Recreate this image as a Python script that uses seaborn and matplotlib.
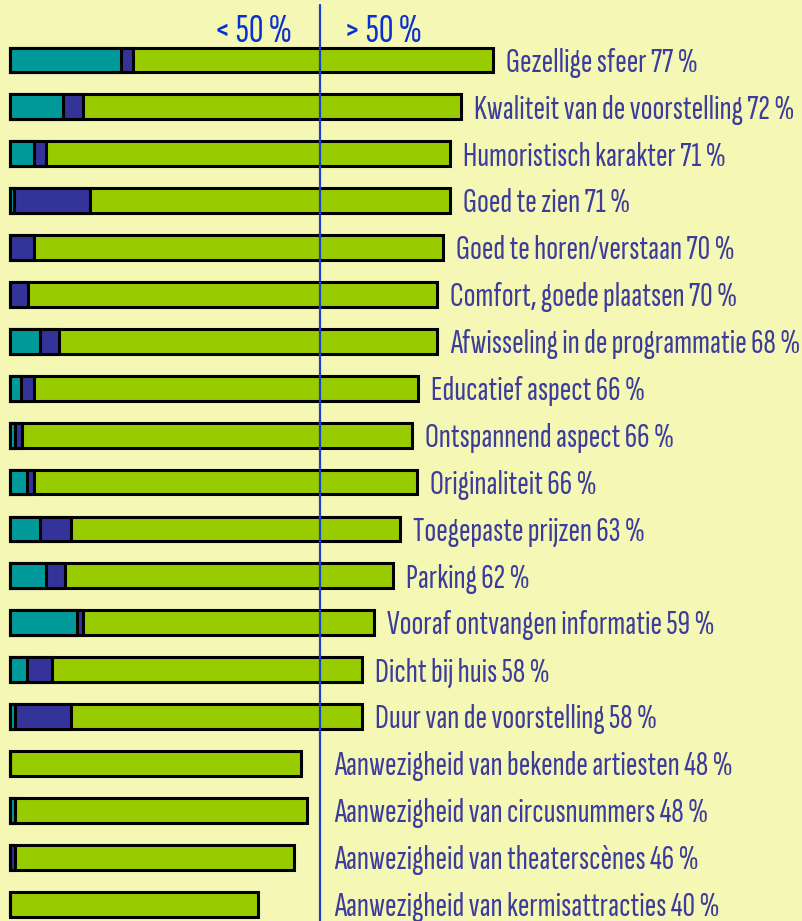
import numpy as np
import pandas as pd
import seaborn as sns
import matplotlib.pyplot as plt

# Data (segment widths in %)
labels = [
    'Gezellige sfeer', 'Kwaliteit van de voorstelling', 'Humoristisch karakter',
    'Goed te zien', 'Goed te horen/verstaan', 'Comfort, goede plaatsen',
    'Afwisseling in de programmatie', 'Educatief aspect', 'Ontspannend aspect',
    'Originaliteit', 'Toegepaste prijzen', 'Parking', 'Vooraf ontvangen informatie',
    'Dicht bij huis', 'Duur van de voorstelling',
    'Aanwezigheid van bekende artiesten', 'Aanwezigheid van circusnummers',
    'Aanwezigheid van theaterscènes', 'Aanwezigheid van kermisattracties',
]
pct = [77, 72, 71, 71, 70, 70, 68, 66, 66, 66, 63, 62, 59, 58, 58, 48, 48, 46, 40]
teal = [17.9, 8.5, 3.9, 0.6, 0.0, 0.0, 4.8, 1.8, 0.8, 2.7, 4.8, 5.8, 10.8, 2.7, 0.8,
        0.0, 0.8, 0.0, 0.0]
blue = [1.9, 3.2, 1.9, 12.3, 3.9, 2.9, 3.1, 2.1, 1.1, 1.1, 5.0, 3.1, 1.0, 4.0, 9.0,
        0.0, 0.0, 0.8, 0.0]
green = [58.1, 61.1, 65.2, 58.1, 66.0, 66.0, 61.0, 61.9, 62.9, 61.9, 53.1, 52.9, 46.9,
         50.0, 46.9, 46.9, 47.1, 45.0, 40.0]

df = pd.DataFrame({'label': labels, 'teal': teal, 'blue': blue, 'green': green})
df['tb'] = df['teal'] + df['blue']
df['total'] = df['tb'] + df['green']

sns.set_style('white')
plt.rcParams['font.family'] = ['Sofia Sans Extra Condensed', 'Pathway Gothic One', 'DejaVu Sans']

bg = '#f5f7b4'
fig = plt.figure(figsize=(8.03, 9.21), dpi=100, facecolor=bg)
ax = fig.add_axes([0, 0, 1, 1])
ax.set_facecolor(bg)

# stacked bars: draw cumulative totals from back to front
for col, colour in [('total', '#99cc00'), ('tb', '#333399'), ('teal', '#009999')]:
    sns.barplot(data=df, x=col, y='label', order=labels, orient='h', color=colour,
                saturation=1, edgecolor='black', linewidth=2.2, width=0.53,
                errorbar=None, ax=ax)

ax.set_xlim(-1.61, 127.9)
ax.set_ylim(18.36, -1.28)
ax.axis('off')

line_col = '#1a40d0'
ax.axvline(50, ymin=0, ymax=0.995, color=line_col, lw=1.6)
ax.text(45.5, -0.39, '< 50 %', ha='right', va='baseline', fontsize=29,
        fontweight='light', color='#0a30d0')
ax.text(53.9, -0.39, '> 50 %', ha='left', va='baseline', fontsize=29,
        fontweight='light', color='#0a30d0')

text_col = '#3c3c9c'
for i, (name, p, tot) in enumerate(zip(labels, pct, df['total'])):
    x = max(tot + 2.1, 52.3)
    ax.text(x, i + 0.25, f'{name} {p} %', ha='left', va='baseline', fontsize=25,
            fontweight='light', color=text_col)

fig.savefig('out.png', dpi=100, facecolor=bg)
